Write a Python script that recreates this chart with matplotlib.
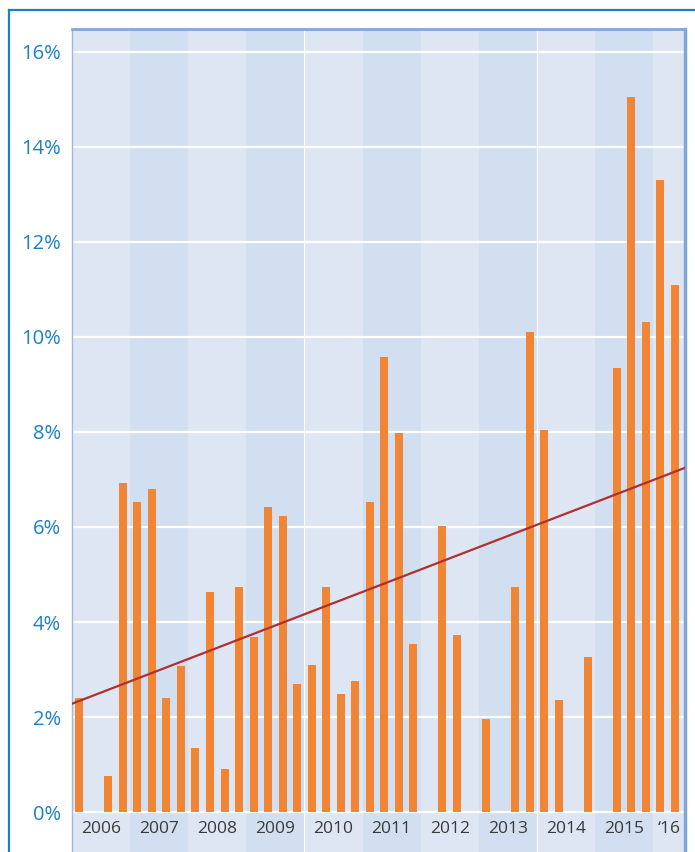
"""
Quarterly share chart, 2006 - mid 2016, with linear trend.
"""
import numpy as np
import matplotlib.pyplot as plt
from matplotlib.lines import Line2D

plt.rcParams['font.family'] = ['Open Sans', 'DejaVu Sans']

# Data: one value per quarter, 2006 Q1 .. 2016 Q2 (0 = no bar)
years = ['2006', '2007', '2008', '2009', '2010', '2011', '2012', '2013', '2014', '2015', '\u201816']
values = [2.39, 0.0, 0.76, 6.93,
          6.53, 6.80, 2.40, 3.07,
          1.35, 4.63, 0.91, 4.74,
          3.68, 6.42, 6.23, 2.69,
          3.09, 4.74, 2.48, 2.76,
          6.53, 9.58, 7.98, 3.54,
          0.0, 6.02, 3.73, 0.0,
          1.96, 0.0, 4.74, 10.10,
          8.04, 2.36, 0.0, 3.26,
          0.0, 9.35, 15.05, 10.32,
          13.30, 11.09]
yticks = [0, 2, 4, 6, 8, 10, 12, 14, 16]

BAR_COLOR = '#f28534'
TREND_COLOR = '#b0302e'
BAND_LIGHT = '#dfe6f3'
BAND_DARK = '#d2dff1'
TICK_BLUE = '#1a80c8'
FRAME_BLUE = '#7fa8d8'

W, H = 695, 852
fig = plt.figure(figsize=(W / 100, H / 100), dpi=100)
ax = fig.add_axes([72 / W, 0, (685 - 72) / W, (852 - 29) / H])

x = np.arange(len(values))
xmin, xmax = -0.5, 41.7
ax.set_xlim(xmin, xmax)
ax.set_ylim(-0.842, 16.484)

# alternating year bands
for i, yr in enumerate(years):
    x0 = i * 4 - 0.5
    x1 = min(x0 + 4, xmax)
    ax.axvspan(x0, x1, color=BAND_LIGHT if i % 2 == 0 else BAND_DARK, lw=0, zorder=0)
    ax.text((x0 + x1) / 2, -0.36, yr, ha='center', va='center', fontsize=12.5, color='#3a3a3a')

# gridlines
for t in yticks:
    ax.axhline(t, color='white', lw=1.6, zorder=1)
for xv in [15.5, 31.5]:
    ax.axvline(xv, color='white', lw=0.8, zorder=1)

vals = np.array(values)
ax.bar(x, vals, width=0.55, color=BAR_COLOR, zorder=2)

# linear trend through all quarters
slope, intercept = np.polyfit(x, vals, 1)
tx = np.array([xmin, xmax])
ax.plot(tx, slope * tx + intercept, color=TREND_COLOR, lw=1.6, zorder=3)

ax.set_xticks([])
ax.set_yticks(yticks)
ax.set_yticklabels([f'{t}%' for t in yticks], fontsize=14.5, color=TICK_BLUE)
ax.tick_params(axis='y', length=0, pad=8)

ax.spines['bottom'].set_visible(False)
ax.spines['top'].set_color(FRAME_BLUE)
ax.spines['top'].set_linewidth(2)
ax.spines['right'].set_color(FRAME_BLUE)
ax.spines['right'].set_linewidth(2.5)
ax.spines['left'].set_color('#9dbbe0')
ax.spines['left'].set_linewidth(1)

# outer frame
top = 1 - 10 / H
left = 9 / W
fig.add_artist(Line2D([left, 1.01], [top, top], color='#1b80c8', lw=1.6, transform=fig.transFigure))
fig.add_artist(Line2D([left, left], [-0.01, top], color='#1b80c8', lw=1.6, transform=fig.transFigure))

fig.savefig('out.png', dpi=100, facecolor='white')
